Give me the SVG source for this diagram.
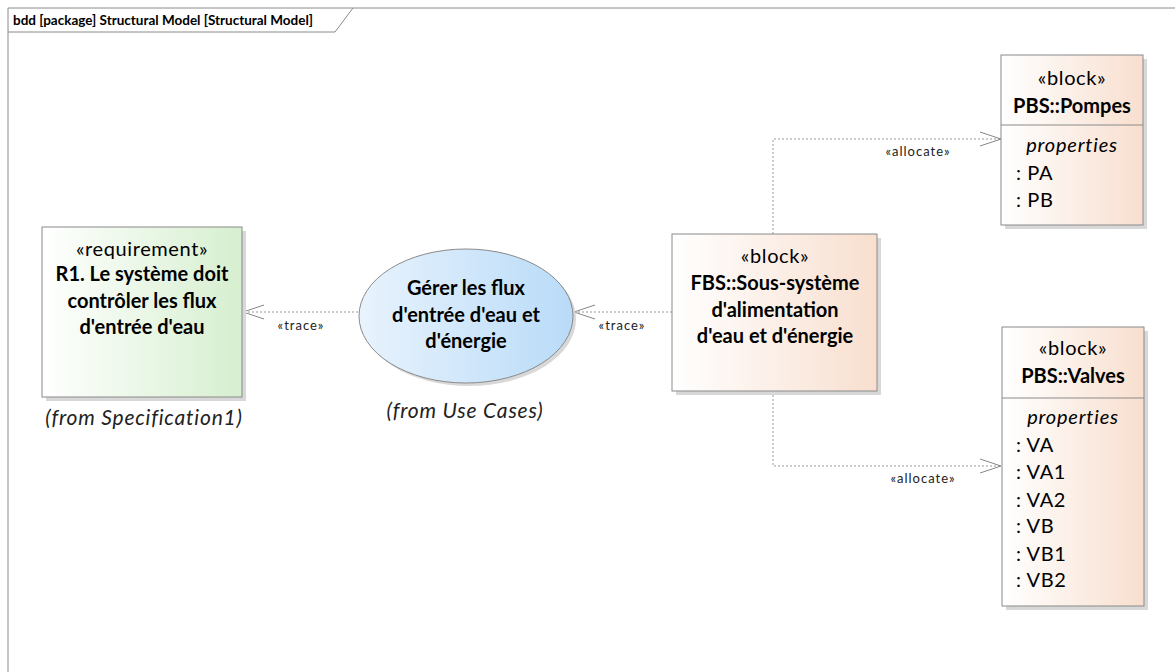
<svg xmlns="http://www.w3.org/2000/svg" width="1175" height="672" viewBox="0 0 1175 672">
<defs>
<linearGradient id="gGreen" x1="0" y1="0" x2="1" y2="0"><stop offset="0" stop-color="#ffffff"/><stop offset="1" stop-color="#d6efcf"/></linearGradient>
<linearGradient id="gBlue" x1="0" y1="0" x2="1" y2="0"><stop offset="0" stop-color="#e8f3fd"/><stop offset="1" stop-color="#b9dbf8"/></linearGradient>
<linearGradient id="gPeach" x1="0" y1="0" x2="1" y2="0"><stop offset="0" stop-color="#ffffff"/><stop offset="1" stop-color="#f8dfcf"/></linearGradient>
<marker id="open" viewBox="0 0 22 16" refX="21" refY="8" markerWidth="22" markerHeight="16" markerUnits="userSpaceOnUse" orient="auto"><path d="M0,1 L21,8 L0,15" fill="none" stroke="#888" stroke-width="1"/></marker>
</defs>
<style>
text{font-family:Lato,"Open Sans","Liberation Sans",sans-serif;fill:#000}
.st{font-size:20px;letter-spacing:0.6px}
.b{font-size:20px;font-weight:bold}
.it{font-size:20px;font-style:italic;letter-spacing:0.8px}
.from{font-size:21px;font-style:italic;letter-spacing:0.8px;fill:#222}
.lbl{font-size:13px;letter-spacing:1px;fill:#222}
.box{stroke:#8a8a8a;stroke-width:1}
.sh{fill:#d8d8d8}
.conn{fill:none;stroke:#999;stroke-width:1;stroke-dasharray:2,2}
</style>
<rect x="0" y="0" width="1175" height="672" fill="#fff"/>
<g id="frame">
<path d="M8,672 L8,8 L1175,8" fill="none" stroke="#8a8a8a" stroke-width="1"/>
<path d="M8,32 L335,32 L353,8" fill="none" stroke="#8a8a8a" stroke-width="1"/>
<text x="13" y="25" style="font-size:13.5px;font-weight:bold">bdd [package] Structural Model [Structural Model]</text>
</g>
<g id="connectors">
<line class="conn" x1="358" y1="312" x2="243" y2="312" marker-end="url(#open)"/>
<text class="lbl" x="301" y="330" text-anchor="middle">«trace»</text>
<line class="conn" x1="672" y1="312" x2="574" y2="312" marker-end="url(#open)"/>
<text class="lbl" x="622" y="330" text-anchor="middle">«trace»</text>
<polyline class="conn" points="773,234 773,139 1001,139" marker-end="url(#open)"/>
<text class="lbl" x="918" y="156" text-anchor="middle">«allocate»</text>
<polyline class="conn" points="773,391 773,466 1001,466" marker-end="url(#open)"/>
<text class="lbl" x="923" y="483" text-anchor="middle">«allocate»</text>
</g>
<g id="req">
<rect class="sh" x="46" y="231" width="200" height="170"/>
<rect class="box" x="42" y="227" width="200" height="170" fill="url(#gGreen)"/>
<text class="st" x="142" y="256" text-anchor="middle">«requirement»</text>
<text class="b" x="142" y="281" text-anchor="middle">R1. Le système doit</text>
<text class="b" x="142" y="308" text-anchor="middle">contrôler les flux</text>
<text class="b" x="142" y="334" text-anchor="middle">d'entrée d'eau</text>
<text class="from" x="144" y="425" text-anchor="middle">(from Specification1)</text>
</g>
<g id="usecase">
<ellipse class="sh" cx="469" cy="319" rx="107" ry="67"/>
<ellipse class="box" cx="466" cy="316" rx="107" ry="67" fill="url(#gBlue)"/>
<text class="b" x="466" y="295" text-anchor="middle">Gérer les flux</text>
<text class="b" x="466" y="322" text-anchor="middle">d'entrée d'eau et</text>
<text class="b" x="466" y="348" text-anchor="middle">d'énergie</text>
<text class="from" x="465" y="418" text-anchor="middle">(from Use Cases)</text>
</g>
<g id="fbs">
<rect class="sh" x="676" y="238" width="205" height="157"/>
<rect class="box" x="672" y="234" width="205" height="157" fill="url(#gPeach)"/>
<text class="st" x="775" y="263" text-anchor="middle">«block»</text>
<text class="b" x="775" y="290" text-anchor="middle">FBS::Sous-système</text>
<text class="b" x="775" y="317" text-anchor="middle">d'alimentation</text>
<text class="b" x="775" y="343" text-anchor="middle">d'eau et d'énergie</text>
</g>
<g id="pompes">
<rect class="sh" x="1005" y="59" width="142" height="170"/>
<rect class="box" x="1001" y="55" width="142" height="170" fill="url(#gPeach)"/>
<line class="box" x1="1001" y1="125" x2="1143" y2="125"/>
<text class="st" x="1072" y="85" text-anchor="middle">«block»</text>
<text class="b" x="1072" y="113" text-anchor="middle">PBS::Pompes</text>
<text class="it" x="1072" y="152" text-anchor="middle">properties</text>
<text class="st" x="1016" y="180">: PA</text>
<text class="st" x="1016" y="207">: PB</text>
</g>
<g id="valves">
<rect class="sh" x="1006" y="331" width="142" height="279"/>
<rect class="box" x="1002" y="327" width="142" height="279" fill="url(#gPeach)"/>
<line class="box" x1="1002" y1="398" x2="1144" y2="398"/>
<text class="st" x="1073" y="355" text-anchor="middle">«block»</text>
<text class="b" x="1073" y="383" text-anchor="middle">PBS::Valves</text>
<text class="it" x="1073" y="424" text-anchor="middle">properties</text>
<text class="st" x="1016" y="452">: VA</text>
<text class="st" x="1016" y="479">: VA1</text>
<text class="st" x="1016" y="507">: VA2</text>
<text class="st" x="1016" y="533">: VB</text>
<text class="st" x="1016" y="561">: VB1</text>
<text class="st" x="1016" y="587">: VB2</text>
</g>
</svg>
